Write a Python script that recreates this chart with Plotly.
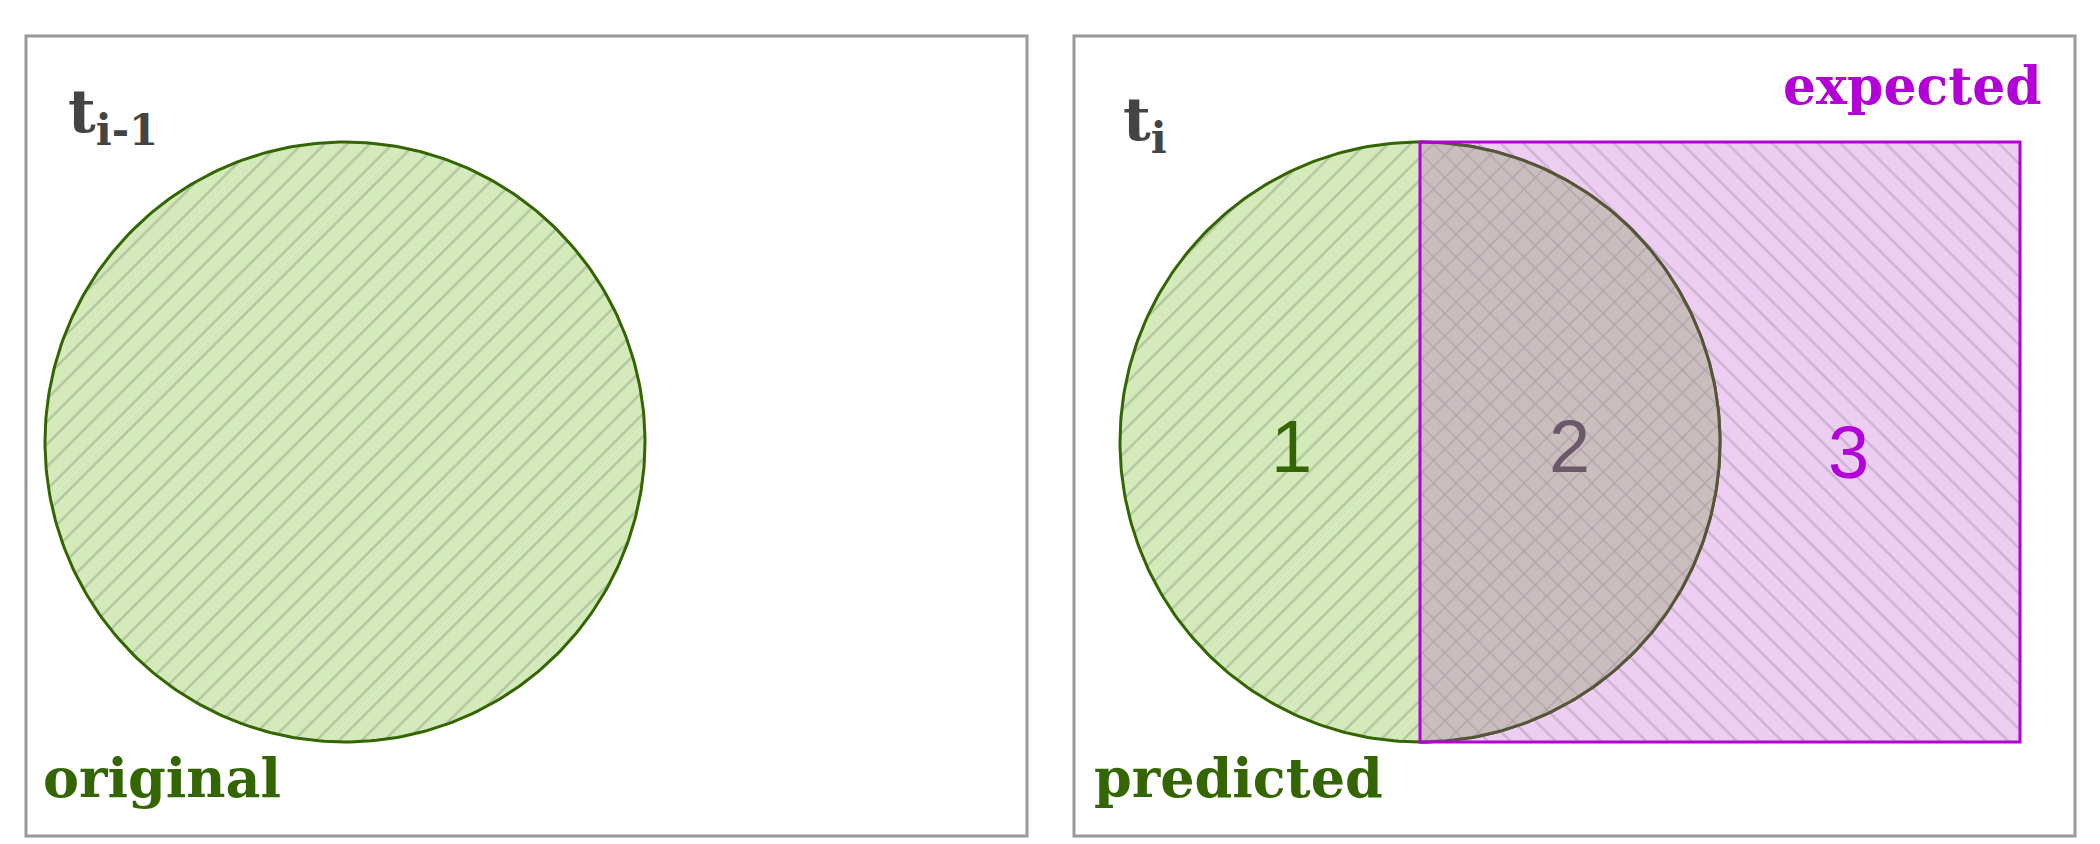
import numpy as np
import plotly.graph_objects as go

# geometry (pixel units, y downwards)
panels_x0 = [25, 1073]
panels_x1 = [1026, 2074]
panels_y0 = [21, 21]
panels_y1 = [821, 821]
circle_cx = [344, 1419]
circle_cy = [427, 427]
circle_r = [300, 300]
rect_x = [1419, 2019]
rect_y = [127, 727]
region_labels = ["1", "2", "3"]
region_x = [1290, 1568, 1847]
region_y = [431, 431, 437]

GREEN = "#336600"
MAGENTA = "#b300d9"

fig = go.Figure()

# panel frames
for x0, x1, y0, y1 in zip(panels_x0, panels_x1, panels_y0, panels_y1):
    fig.add_shape(type="rect", x0=x0, x1=x1, y0=y0, y1=y1,
                  line=dict(color="#999999", width=3))

t = np.linspace(0, 2 * np.pi, 361)

# expected rectangle (pink, back-hatched)
fig.add_trace(go.Scatter(
    x=[rect_x[0], rect_x[1], rect_x[1], rect_x[0], rect_x[0]],
    y=[rect_y[0], rect_y[0], rect_y[1], rect_y[1], rect_y[0]],
    fill="toself", mode="lines", line=dict(width=0),
    fillcolor="#eecdf3",
    fillpattern=dict(shape="\\", bgcolor="#eecdf3", fgcolor="#a898ac", size=16, solidity=0.15),
    hoverinfo="skip"))

# circles
for i in range(2):
    cx, cy, r = circle_cx[i], circle_cy[i], circle_r[i]
    fig.add_trace(go.Scatter(
        x=cx + r * np.cos(t), y=cy + r * np.sin(t),
        fill="toself", mode="lines", line=dict(color=GREEN, width=3),
        fillpattern=dict(shape="/", bgcolor="#d5eabb", fgcolor="#8f9f88", size=16, solidity=0.15),
        hoverinfo="skip"))

# overlap (right half of predicted circle)
th = np.linspace(-np.pi / 2, np.pi / 2, 181)
fig.add_trace(go.Scatter(
    x=circle_cx[1] + circle_r[1] * np.cos(th), y=circle_cy[1] + circle_r[1] * np.sin(th),
    fill="toself", mode="lines", line=dict(color="#55553a", width=3),
    fillpattern=dict(shape="x", bgcolor="#cabdbd", fgcolor="#9a849c", size=16, solidity=0.15),
    hoverinfo="skip"))

# rectangle outline on top
fig.add_shape(type="rect", x0=rect_x[0], x1=rect_x[1], y0=rect_y[0], y1=rect_y[1],
              line=dict(color=MAGENTA, width=3))

hand = "DejaVu Serif"
texts = [
    ("<b>t<sub>i-1</sub></b>", 112, 100, "#444444", 60),
    ("<b>original</b>", 161, 763, GREEN, 54),
    ("<b>t<sub>i</sub></b>", 1144, 108, "#444444", 60),
    ("<b>predicted</b>", 1237, 763, GREEN, 54),
    ("<b>expected</b>", 1911, 70, MAGENTA, 52),
]
for s, x, y, c, sz in texts:
    fig.add_annotation(x=x, y=y, text=s, showarrow=False,
                       font=dict(family=hand, size=sz, color=c))
for s, x, y, c in zip(region_labels, region_x, region_y, [GREEN, "#6b5868", MAGENTA]):
    fig.add_annotation(x=x, y=y, text=s, showarrow=False,
                       font=dict(family="Liberation Sans", size=74, color=c))

fig.update_layout(
    width=2100, height=844, showlegend=False,
    margin=dict(l=0, r=0, t=0, b=0),
    paper_bgcolor="white", plot_bgcolor="white",
    xaxis=dict(range=[7, 2107], visible=False, fixedrange=True),
    yaxis=dict(range=[837, -7], visible=False, fixedrange=True),
)
fig.write_html("out.html")
